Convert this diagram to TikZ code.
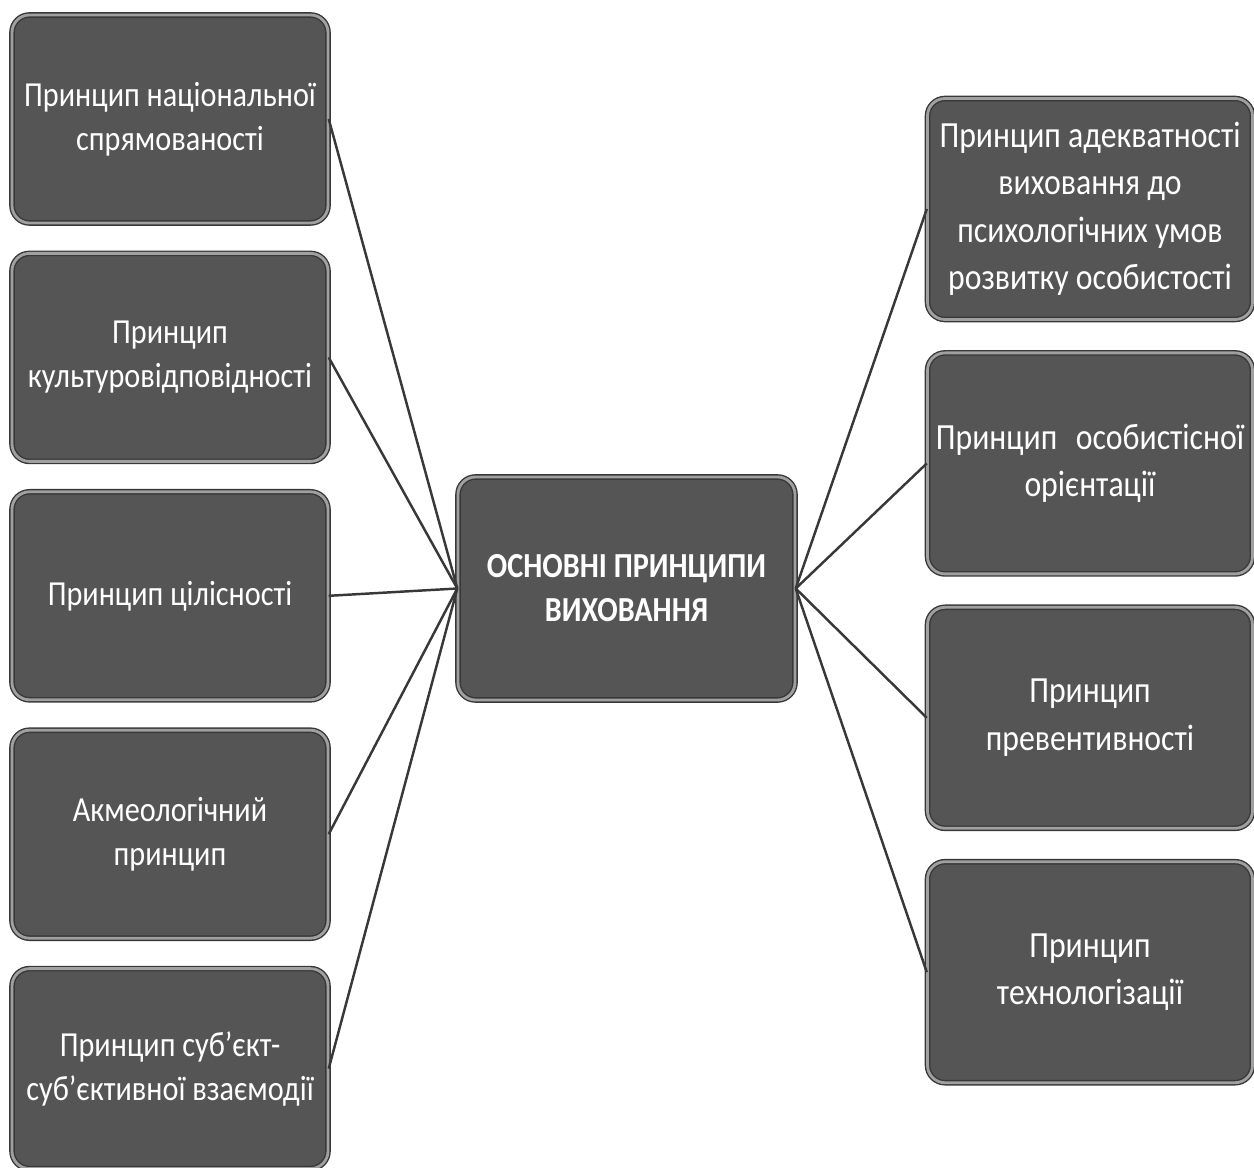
\documentclass[tikz,border=0pt]{standalone}
\usepackage{fontspec}
\setmainfont[FakeStretch=0.86]{Carlito}
\usepackage{tikz}
\usetikzlibrary{positioning}
\definecolor{boxgray}{HTML}{555555}
\definecolor{rimgray}{HTML}{A0A0A0}
\definecolor{edgegray}{HTML}{383838}
\tikzset{
  pbox/.style={rectangle, rounded corners=0.35cm, draw=edgegray, line width=0.8pt,
               double=rimgray, double distance=1.6pt,
               fill=boxgray, text=white, align=center, inner sep=1pt},
  leftbox/.style={pbox, minimum width=6.32cm, minimum height=4.16cm,
                  font=\fontsize{20}{25}\selectfont},
  rightbox/.style={pbox, minimum width=6.5cm, minimum height=4.42cm,
                   font=\fontsize{21}{27}\selectfont},
  mainbox/.style={pbox, minimum width=6.74cm, minimum height=4.46cm,
                  font=\bfseries\fontsize{20}{25}\selectfont},
  link/.style={draw=edgegray, line width=1.4pt},
}
\begin{document}
\begin{tikzpicture}
  \useasboundingbox (0,0) rectangle (25.08,23.34);

  % left column
  \node[leftbox] (national) at (3.40,20.96) {Принцип національної\\спрямованості};
  \node[leftbox] (culture) [below=0.58cm of national] {Принцип\\культуровідповідності};
  \node[leftbox] (whole) [below=0.58cm of culture] {Принцип цілісності};
  \node[leftbox] (acme) [below=0.58cm of whole] {Акмеологічний\\принцип};
  \node[leftbox, minimum height=4.0cm] (subject) [below=0.58cm of acme] {Принцип суб'єкт-\\суб'єктивної взаємодії};

  % centre
  \node[mainbox] (main) at (12.53,11.57) {ОСНОВНІ ПРИНЦИПИ\\ВИХОВАННЯ};

  % right column
  \node[rightbox] (adequacy) at (21.80,19.16) {Принцип адекватності\\виховання до\\психологічних умов\\розвитку особистості};
  \node[rightbox] (personal) [below=0.64cm of adequacy] {Принцип\enspace особистісної\\орієнтації};
  \node[rightbox] (prevent) [below=0.64cm of personal] {Принцип\\превентивності};
  \node[rightbox] (techno) [below=0.64cm of prevent] {Принцип\\технологізації};

  \foreach \n in {national,culture,whole,acme,subject}
    \draw[link] (\n.east) -- (main.west);
  \foreach \n in {adequacy,personal,prevent,techno}
    \draw[link] (main.east) -- (\n.west);

\end{tikzpicture}
\end{document}
